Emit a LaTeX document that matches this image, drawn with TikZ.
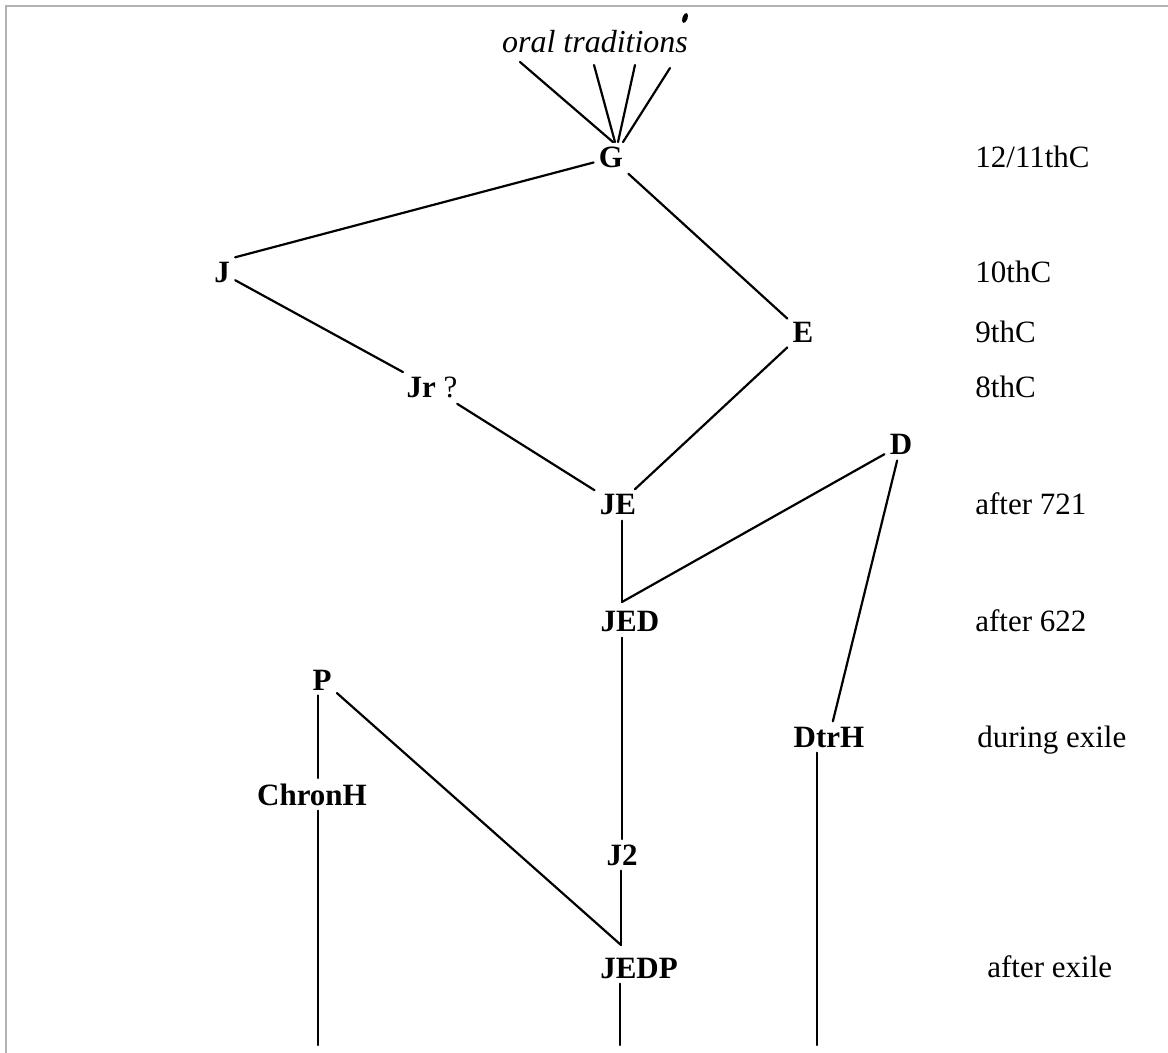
\documentclass[tikz,border=0pt]{standalone}
\usepackage{fontspec}
\setmainfont{Liberation Serif}
\begin{document}
\begin{tikzpicture}[x=0.5pt,y=-0.5pt,
  lbl/.style={font=\fontsize{15.5}{18}\selectfont\bfseries, inner sep=2.5pt, anchor=base},
  era/.style={font=\fontsize{15.5}{18}\selectfont, inner sep=0pt, anchor=base west},
  link/.style={line width=1.1pt, line cap=round}]
\useasboundingbox (0,0) rectangle (1168,1053);
\draw[gray!60, line width=0.7pt] (6,1053) -- (6,6) -- (1168,6);
% nodes
\node[font=\fontsize{16}{18}\selectfont\itshape, anchor=base, inner sep=0pt] (oral) at (595,53) {oral traditions};
\node[lbl] (G) at (611,168) {G};
\node[lbl] (J) at (222,283) {J};
\node[lbl] (E) at (803,343) {E};
\node[lbl] (Jr) at (432,398) {Jr \mdseries ?};
\node[lbl] (D) at (901,455) {D};
\node[lbl] (JE) at (618,515) {JE};
\node[lbl] (JED) at (630,632) {JED};
\node[lbl] (P) at (322,690) {P};
\node[lbl] (DtrH) at (829,747) {DtrH};
\node[lbl] (ChronH) at (312,805) {ChronH};
\node[lbl] (J2) at (622,865) {J2};
\node[lbl] (JEDP) at (639,978) {JEDP};
% era labels
\node[era] (t1) at (975,168) {12/11thC};
\node[era] (t2) at (975,283) {10thC};
\node[era] (t3) at (975,343) {9thC};
\node[era] (t4) at (975,398) {8thC};
\node[era] (t5) at (975,515) {after 721};
\node[era] (t6) at (975,632) {after 622};
\node[era] (t7) at (977,747) {during exile};
\node[era] (t8) at (987,977) {after exile};
% coordinates
\coordinate (o1) at (520,62);
\coordinate (o2) at (594,65);
\coordinate (o3) at (635,65);
\coordinate (o4) at (670,68);
\coordinate (j1) at (622,602);
\coordinate (j2) at (621,945);
\coordinate (b1) at (318,1045);
\coordinate (b2) at (620,1045);
\coordinate (b3) at (817,1045);
% stray ink mark
\fill[rotate around={-20:(685,18)}] (685,18) ellipse [x radius=1.3pt, y radius=2.6pt];
% connectors
\draw[link] (o1) -- ([xshift=1pt]G.north);
\draw[link] (o2) -- ([xshift=2pt]G.north);
\draw[link] (o3) -- ([xshift=3.5pt]G.north);
\draw[link] (o4) -- ([xshift=6pt]G.north);
\draw[link] (G) -- (J.north east);
\draw[link] (G) -- (E);
\draw[link] (J) -- (Jr);
\draw[link] (Jr) -- (JE);
\draw[link] (E) -- (JE);
\draw[link] (j1 |- JE.south) -- (j1);
\draw[link] (D) -- (j1);
\draw[link] (D) -- (DtrH);
\draw[link] (J2 |- JED.south) -- (J2);
\draw[link] (j2 |- J2.south) -- (j2);
\draw[link] (P) -- (j2);
\draw[link] (JEDP.south -| b2) -- (b2);
\draw[link] (P.south -| b1) -- (ChronH.north -| b1);
\draw[link] (ChronH.south -| b1) -- (b1);
\draw[link] (DtrH.south -| b3) -- (b3);
\end{tikzpicture}
\end{document}
